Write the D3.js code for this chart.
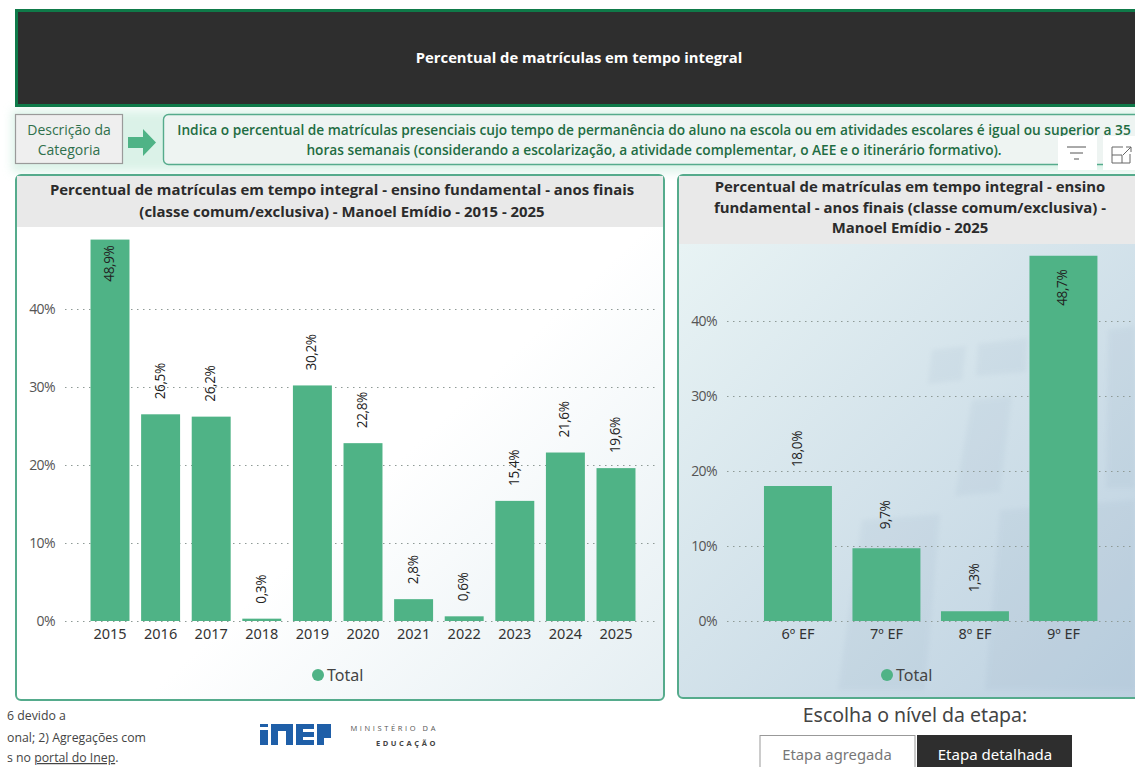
<!DOCTYPE html>
<html>
<head>
<meta charset="utf-8">
<script src="https://cdn.jsdelivr.net/npm/d3@7"></script>
<style>
  html, body { margin: 0; padding: 0; background: #fff; overflow: hidden; }
  svg { display: block; }
  text { font-family: "Open Sans", "Noto Sans", sans-serif; }
  .din { font-family: "Noto Sans", sans-serif; }
  .tick line { stroke: #8f9a96; stroke-dasharray: 1.5 4.5; }
  .domain { display: none; }
</style>
</head>
<body>
<div id="chart"></div>
<script>
// Chart values
let years = ["2015", "2016", "2017", "2018", "2019", "2020", "2021", "2022", "2023", "2024", "2025"];
let yearValues = [48.9, 26.5, 26.2, 0.3, 30.2, 22.8, 2.8, 0.6, 15.4, 21.6, 19.6];
let grades = ["6º EF", "7º EF", "8º EF", "9º EF"];
let gradeValues = [18.0, 9.7, 1.3, 48.7];
let percentTicks = [0, 10, 20, 30, 40];

let titleMain = "Percentual de matrículas em tempo integral";
let descLines = [
  "Indica o percentual de matrículas presenciais cujo tempo de permanência do aluno na escola ou em atividades escolares é igual ou superior a 35",
  "horas semanais (considerando a escolarização, a atividade complementar, o AEE e o itinerário formativo)."
];
let leftTitle = [
  "Percentual de matrículas em tempo integral - ensino fundamental - anos finais",
  "(classe comum/exclusiva) - Manoel Emídio - 2015 - 2025"
];
let rightTitle = [
  "Percentual de matrículas em tempo integral - ensino",
  "fundamental - anos finais (classe comum/exclusiva) -",
  "Manoel Emídio - 2025"
];

let svgWidth = 1135;
let svgHeight = 767;
let barColor = "#4fb386";
let frameColor = "#55ab8c";

let svg = d3.select("#chart").append("svg")
  .attr("width", svgWidth)
  .attr("height", svgHeight);

let defs = svg.append("defs");

// Each panel has its own background fade
function addGradient(id, x1, y1, x2, y2, from, to) {
  let g = defs.append("linearGradient").attr("id", id)
    .attr("gradientUnits", "userSpaceOnUse")
    .attr("x1", x1).attr("y1", y1).attr("x2", x2).attr("y2", y2);
  g.append("stop").attr("offset", "0").attr("stop-color", from);
  g.append("stop").attr("offset", "1").attr("stop-color", to);
}
addGradient("bgLeft", 420, 440, 664, 700, "#ffffff", "#e4eef2");
addGradient("bgRight", 680, 245, 1135, 700, "#e8f3f4", "#bcd0e0");

let glow = defs.append("filter").attr("id", "glow")
  .attr("x", "-10%").attr("y", "-30%").attr("width", "120%").attr("height", "160%");
glow.append("feGaussianBlur").attr("stdDeviation", 5);
let soft = defs.append("filter").attr("id", "soft");
soft.append("feGaussianBlur").attr("stdDeviation", 2);

svg.append("rect").attr("width", svgWidth).attr("height", svgHeight).attr("fill", "#fff");

// Green glow behind the description row
svg.append("rect").attr("x", 12).attr("y", 110).attr("width", 1130).attr("height", 62)
  .attr("fill", "#bfe8d6").attr("opacity", 0.55).attr("filter", "url(#glow)");

// Header band
svg.append("rect").attr("x", 16.5).attr("y", 10.5).attr("width", 1125).attr("height", 95)
  .attr("fill", "#2e2e2e").attr("stroke", "#0f7a49").attr("stroke-width", 3);
svg.append("text").attr("x", 579).attr("y", 63)
  .attr("text-anchor", "middle").attr("fill", "#fff")
  .attr("font-size", 14.8).attr("font-weight", 700)
  .text(titleMain);

// Description row
svg.append("rect").attr("x", 15.5).attr("y", 114.5).attr("width", 107).attr("height", 49)
  .attr("fill", "#efefef").attr("stroke", "#9a9a9a").attr("stroke-width", 1.2);
svg.selectAll(".descLabel").data(["Descrição da", "Categoria"]).enter().append("text")
  .attr("class", "descLabel")
  .attr("x", 69).attr("y", (d, i) => 135 + i * 20)
  .attr("text-anchor", "middle").attr("fill", "#2f6f4c").attr("font-size", 14).attr("font-weight", 500)
  .text(d => d);
svg.append("path")
  .attr("d", "M128,137 H143 V129 L156,142.5 L143,156 V148 H128 Z")
  .attr("fill", barColor);
svg.append("rect").attr("x", 163.5).attr("y", 114.5).attr("width", 1000).attr("height", 50).attr("rx", 5)
  .attr("fill", "#eef4f2").attr("stroke", frameColor).attr("stroke-width", 1.4);
svg.selectAll(".descText").data(descLines).enter().append("text")
  .attr("class", "descText")
  .attr("x", 654).attr("y", (d, i) => 135 + i * 19.5)
  .attr("text-anchor", "middle").attr("fill", "#1f6d43").attr("font-size", 13.7).attr("font-weight", 600)
  .text(d => d);

// Draws one bordered panel with its column chart
function drawPanel(p) {
  svg.append("rect").attr("x", p.x).attr("y", p.y).attr("width", p.w).attr("height", p.h).attr("rx", 5)
    .attr("fill", `url(#${p.bg})`).attr("stroke", frameColor).attr("stroke-width", 2);

  // faint building shapes of the report wallpaper
  svg.selectAll(null).data(p.shapes).enter().append("polygon")
    .attr("points", d => d)
    .attr("fill", "#8ea5bd").attr("opacity", 0.1).attr("filter", "url(#soft)");

  svg.append("rect").attr("x", p.x + 1).attr("y", p.y + 1).attr("width", p.w - 2).attr("height", p.headH)
    .attr("fill", "#e9e9e9");

  svg.selectAll(null).data(p.title).enter().append("text")
    .attr("x", p.titleX).attr("y", (d, i) => p.titleY + i * p.titleStep)
    .attr("text-anchor", "middle").attr("fill", "#2b2b2b")
    .attr("font-size", 14.9).attr("font-weight", 700)
    .text(d => d);

  let xBandScale = d3.scaleBand().domain(p.categories).range(p.xRange)
    .paddingInner(p.padding).paddingOuter(p.padding / 2);
  let yLinearScale = d3.scaleLinear().domain([0, 40]).range([p.y0, p.y40]);

  // y axis with dotted gridlines
  let leftAxis = d3.axisLeft(yLinearScale)
    .tickValues(percentTicks)
    .tickFormat(d => d + "%")
    .tickSize(-(p.gridEnd - p.gridStart))
    .tickPadding(10);
  let yAxis = svg.append("g")
    .attr("transform", `translate(${p.gridStart}, 0)`)
    .call(leftAxis);
  yAxis.selectAll("text").attr("font-size", 14).attr("fill", "#555").attr("letter-spacing", -0.6);

  // x axis
  let bottomAxis = d3.axisBottom(xBandScale).tickSize(0).tickPadding(8);
  let xAxis = svg.append("g")
    .attr("transform", `translate(0, ${p.y0})`)
    .call(bottomAxis);
  xAxis.selectAll("text").attr("class", "din").attr("font-size", 14.5).attr("fill", "#333");

  // bars
  svg.selectAll(null).data(p.values).enter().append("rect")
    .attr("x", (d, i) => xBandScale(p.categories[i]))
    .attr("y", d => yLinearScale(d))
    .attr("width", xBandScale.bandwidth())
    .attr("height", d => p.y0 - yLinearScale(d))
    .attr("fill", barColor);

  // rotated value labels, the tallest bar keeps its label inside
  svg.selectAll(null).data(p.values).enter().append("text")
    .attr("transform", (d, i) => {
      let cx = xBandScale(p.categories[i]) + xBandScale.bandwidth() / 2 + 4;
      let cy = d > 45 ? yLinearScale(d) + p.insideGap : yLinearScale(d) - p.outsideGap;
      return `translate(${cx}, ${cy}) rotate(-90)`;
    })
    .attr("text-anchor", d => d > 45 ? "end" : "start")
    .attr("font-size", 13.6).attr("fill", "#222").attr("letter-spacing", -0.4)
    .text(d => d3.format(".1f")(d).replace(".", ",") + "%");

  // legend
  svg.append("circle").attr("cx", p.legendX).attr("cy", 675).attr("r", 6).attr("fill", barColor);
  svg.append("text").attr("class", "din").attr("x", p.legendX + 9).attr("y", 680.5)
    .attr("font-size", 16).attr("fill", "#444").text("Total");
}

drawPanel({
  x: 16, y: 175, w: 648, h: 525, headH: 51, bg: "bgLeft",
  shapes: [],
  title: leftTitle, titleX: 342, titleY: 195, titleStep: 21.5,
  categories: years, values: yearValues,
  xRange: [84.7, 641.3], padding: 0.23,
  y0: 621, y40: 309, gridStart: 65, gridEnd: 658,
  insideGap: 6, outsideGap: 15,
  legendX: 318
});

drawPanel({
  x: 678, y: 175, w: 480, h: 523, headH: 68, bg: "bgRight",
  shapes: [
    "932,350 966,346 962,380 928,384",
    "978,344 1028,338 1026,372 976,376",
    "972,400 1012,396 1000,492 955,496",
    "1108,330 1135,326 1135,488 1106,488",
    "862,520 940,514 925,690 838,690",
    "1000,510 1135,500 1135,690 985,690"
  ],
  title: rightTitle, titleX: 910, titleY: 192, titleStep: 20.5,
  categories: grades, values: gradeValues,
  xRange: [753.7, 1107.7], padding: 0.232,
  y0: 621, y40: 321, gridStart: 727, gridEnd: 1135,
  insideGap: 14, outsideGap: 19,
  legendX: 887
});

// Visual header icons over the description box
svg.append("rect").attr("x", 1058).attr("y", 136).attr("width", 39).attr("height", 34).attr("fill", "#fff");
svg.append("rect").attr("x", 1103).attr("y", 136).attr("width", 32).attr("height", 34).attr("fill", "#fff");
svg.append("path").attr("d", "M1067,147 H1086 M1070,153 H1083 M1074,159 H1079")
  .attr("stroke", "#555").attr("fill", "none");
svg.append("path").attr("d", "M1123,147 H1112 V163 H1130 V154 M1112,155 H1122 V163 M1123,155 L1131,147 M1126,147 H1131 V152")
  .attr("stroke", "#666").attr("fill", "none");

// Footnote, cut by the left edge of the page
svg.append("text").attr("x", 7).attr("y", 720).attr("font-size", 12.3).attr("fill", "#444").text("6 devido a");
svg.append("text").attr("x", 7).attr("y", 742).attr("font-size", 12.3).attr("fill", "#444").text("onal; 2) Agregações com");
let footLast = svg.append("text").attr("x", 7).attr("y", 762).attr("font-size", 12.3).attr("fill", "#444");
footLast.append("tspan").text("s no ");
footLast.append("tspan").attr("text-decoration", "underline").text("portal do Inep");
footLast.append("tspan").text(".");

// Inep logo as blocks, ministry name beside it
svg.append("path")
  .attr("d", "M260,724 h8 v3 h-8 Z M260,730 h8 v15 h-8 Z " +
    "M271,724 H293 V745 H286 V731 H278 V745 H271 Z " +
    "M296,724 H314 V729 H303 V732 H314 V737 H303 V740 H314 V745 H296 Z " +
    "M317,724 H331 V738 H324 V745 H317 Z")
  .attr("fill", "#1f5fa8");
svg.append("text").attr("x", 438).attr("y", 731).attr("text-anchor", "end")
  .attr("font-size", 7.5).attr("letter-spacing", 2.6).attr("fill", "#555").text("MINISTÉRIO DA");
svg.append("text").attr("x", 438).attr("y", 746).attr("text-anchor", "end")
  .attr("font-size", 7.5).attr("font-weight", 700).attr("letter-spacing", 2.6).attr("fill", "#444").text("EDUCAÇÃO");

// Level selector
svg.append("text").attr("class", "din").attr("x", 915).attr("y", 722).attr("text-anchor", "middle")
  .attr("font-size", 19.5).attr("fill", "#444").text("Escolha o nível da etapa:");
svg.append("rect").attr("x", 760).attr("y", 735.5).attr("width", 155).attr("height", 40)
  .attr("fill", "#fff").attr("stroke", "#999");
svg.append("rect").attr("x", 917).attr("y", 735).attr("width", 155).attr("height", 40).attr("fill", "#2e2e2e");
svg.append("text").attr("class", "din").attr("x", 837).attr("y", 760).attr("text-anchor", "middle")
  .attr("font-size", 14.8).attr("fill", "#777").text("Etapa agregada");
svg.append("text").attr("class", "din").attr("x", 995).attr("y", 760).attr("text-anchor", "middle")
  .attr("font-size", 15).attr("fill", "#fff").text("Etapa detalhada");
</script>
</body>
</html>
